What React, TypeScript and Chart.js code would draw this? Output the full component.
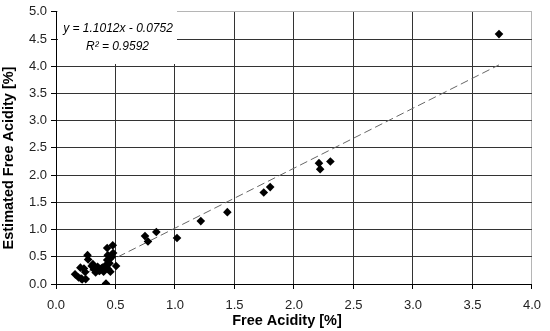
import React, { useEffect, useRef } from "react";
import { Chart, registerables } from "chart.js";

Chart.register(...registerables);

const measuredX = [
  0.16, 0.19, 0.205, 0.21, 0.22, 0.235, 0.245, 0.25, 0.265, 0.27, 0.3, 0.31, 0.318, 0.333, 0.35, 0.36, 0.366,
  0.38, 0.39, 0.4, 0.42, 0.42, 0.43, 0.43, 0.435, 0.45, 0.455, 0.457, 0.477, 0.48, 0.47, 0.505, 0.44,
  0.748, 0.773, 0.843, 1.017, 1.217, 1.44, 1.746, 1.8, 2.21, 2.22, 2.306, 3.723,
];
const estimatedY = [
  0.18, 0.12, 0.3, 0.1, 0.085, 0.285, 0.22, 0.09, 0.53, 0.45, 0.33, 0.365, 0.27, 0.21, 0.316, 0.25, 0.24,
  0.285, 0.3, 0.225, 0.01, 0.35, 0.44, 0.66, 0.53, 0.38, 0.47, 0.225, 0.71, 0.57, 0.5, 0.33, 0.27,
  0.88, 0.78, 0.955, 0.845, 1.155, 1.32, 1.68, 1.78, 2.22, 2.11, 2.25, 4.59,
];
const slope = 1.1012;
const intercept = -0.0752;
const trendX = [0.16, 3.723];
const equationLines = ["y = 1.1012x - 0.0752", "R² = 0.9592"];
const xTitle = "Free Acidity [%]";
const yTitle = "Estimated Free Acidity [%]";

const FONT = "'Liberation Sans', Arial, sans-serif";

export default function App() {
  const ref = useRef<HTMLCanvasElement | null>(null);

  useEffect(() => {
    if (!ref.current) return;
    const points = measuredX.map((x, i) => ({ x, y: estimatedY[i] }));
    const trend = trendX.map((x) => ({ x, y: slope * x + intercept }));

    const overlay = {
      id: "overlay",
      beforeDatasetsDraw(chart: any) {
        const ctx = chart.ctx;
        ctx.save();
        ctx.fillStyle = "#ffffff";
        ctx.fillRect(58, 11, 119, 53);
        ctx.fillStyle = "#000";
        ctx.font = `italic 12px ${FONT}`;
        ctx.textAlign = "center";
        ctx.textBaseline = "middle";
        ctx.fillText(equationLines[0], 118, 29);
        ctx.fillText(equationLines[1], 117.5, 47);
        ctx.restore();
      },
      afterDraw(chart: any) {
        const ctx = chart.ctx;
        ctx.save();
        ctx.fillStyle = "#000";
        ctx.font = `bold 14.5px ${FONT}`;
        ctx.textAlign = "center";
        ctx.textBaseline = "middle";
        ctx.fillText(xTitle, 287, 321);
        ctx.translate(9, 158);
        ctx.rotate(-Math.PI / 2);
        ctx.fillText(yTitle, 0, 0);
        ctx.restore();
      },
    };

    const chart = new Chart(ref.current, {
      type: "scatter",
      data: {
        datasets: [
          {
            label: "data",
            data: points,
            pointStyle: "rectRot",
            pointRadius: 4.3,
            pointBackgroundColor: "#000",
            pointBorderColor: "#000",
            pointBorderWidth: 0,
          },
          {
            label: "trend",
            type: "line",
            data: trend,
            borderColor: "#666",
            borderWidth: 1,
            borderDash: [8, 4],
            pointRadius: 0,
            fill: false,
            order: 1,
          } as any,
        ],
      },
      options: {
        responsive: false,
        animation: false,
        layout: { padding: { top: 10, right: 13, left: 0, bottom: 0 } },
        plugins: { legend: { display: false }, tooltip: { enabled: false } },
        scales: {
          x: {
            type: "linear",
            min: 0,
            max: 4,
            afterFit: (s: any) => {
              s.height = 47;
            },
            ticks: {
              stepSize: 0.5,
              color: "#222",
              font: { family: FONT, size: 13 },
              padding: 9,
              maxRotation: 0,
              callback: (v: any) => Number(v).toFixed(1),
            },
            grid: {
              color: (c: any) => (c.tick && Math.abs(c.tick.value - 4) < 1e-6 ? "#b5b5b5" : "#333"),
              tickColor: "#000",
              tickLength: 5,
              lineWidth: 1,
            },
            border: { color: "#000", width: 1 },
          },
          y: {
            type: "linear",
            min: 0,
            max: 5,
            afterFit: (s: any) => {
              s.width = 56;
            },
            ticks: {
              stepSize: 0.5,
              color: "#222",
              font: { family: FONT, size: 13 },
              padding: 4,
              callback: (v: any) => Number(v).toFixed(1),
            },
            grid: {
              color: (c: any) => (c.tick && Math.abs(c.tick.value - 5) < 1e-6 ? "#b5b5b5" : "#333"),
              tickColor: "#000",
              tickLength: 5,
              lineWidth: 1,
            },
            border: { color: "#000", width: 1 },
          },
        },
      },
      plugins: [overlay],
    });
    return () => chart.destroy();
  }, []);

  return (
    <div style={{ position: "fixed", left: 0, top: 0, width: 550, height: 331, background: "#fff" }}>
      <canvas ref={ref} width={550} height={331} style={{ width: 550, height: 331, display: "block" }} />
    </div>
  );
}
